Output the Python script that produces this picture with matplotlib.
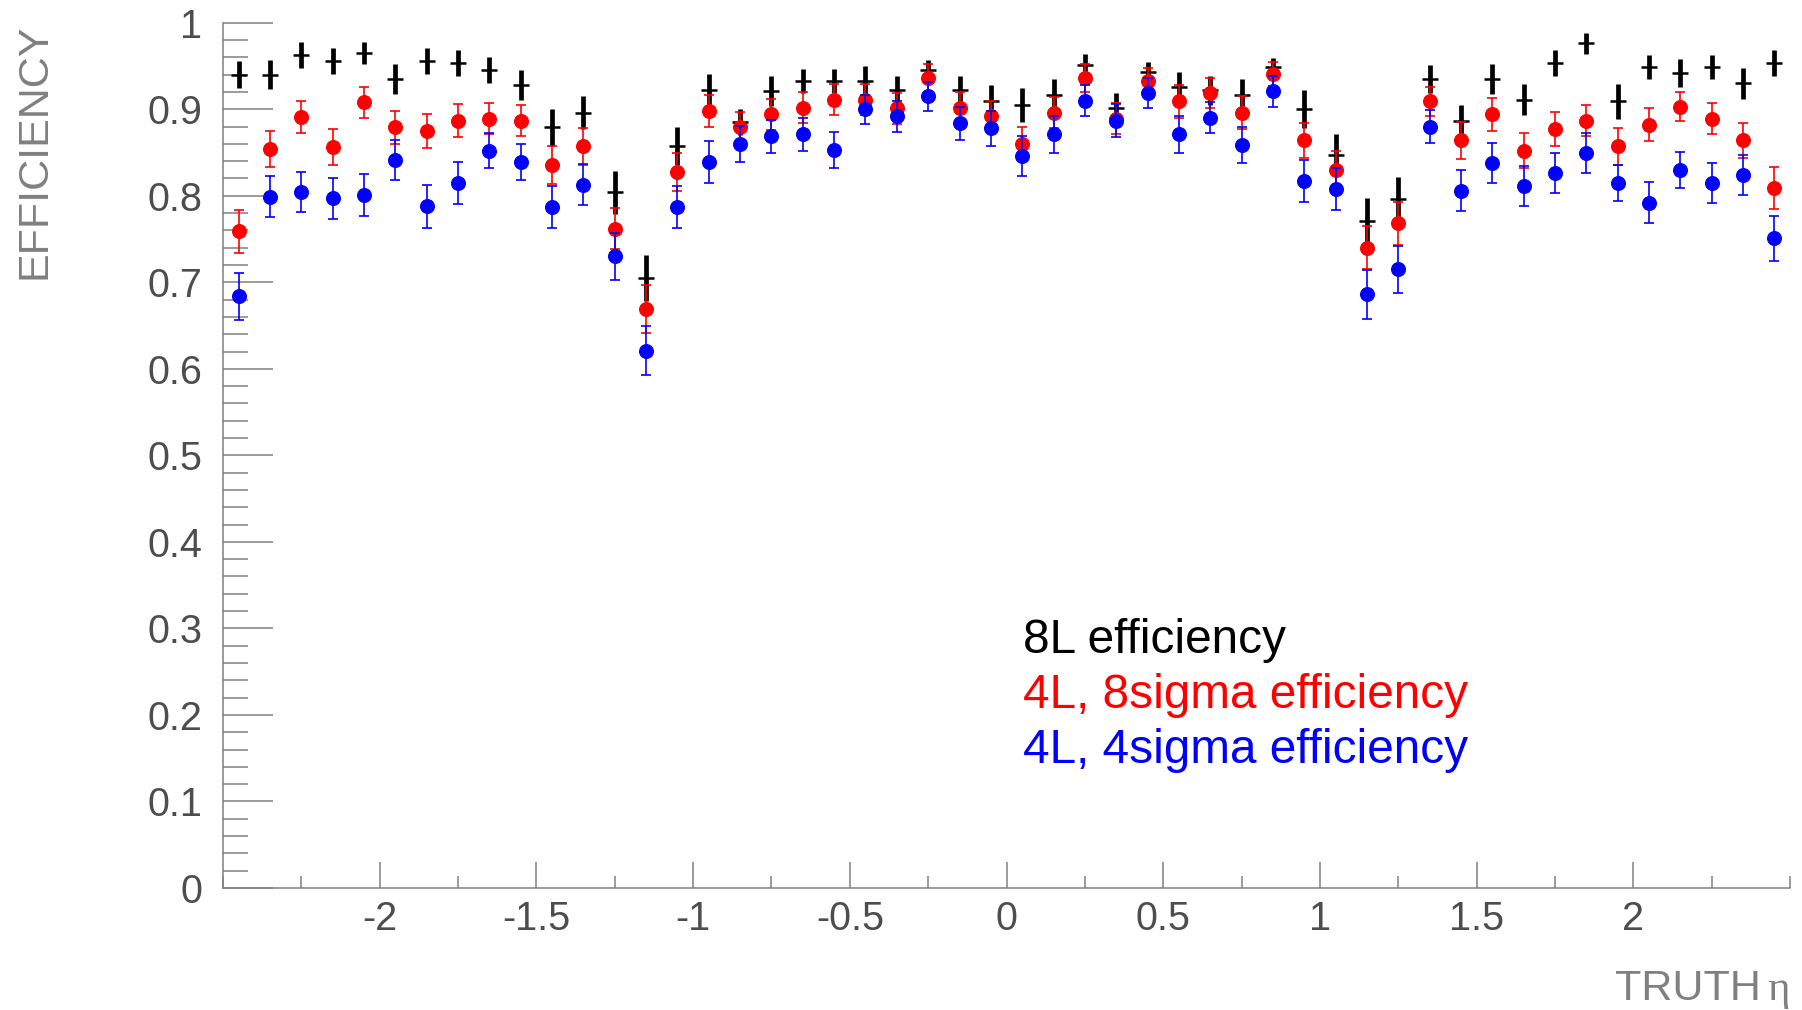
import numpy as np
import matplotlib
matplotlib.use("Agg")
import matplotlib.pyplot as plt
from matplotlib.ticker import MultipleLocator, FormatStrFormatter

plt.rcParams['font.family'] = ['Liberation Sans', 'DejaVu Sans']
plt.rcParams['axes.unicode_minus'] = False

# bin centres in truth eta
eta = [-2.45, -2.35, -2.25, -2.15, -2.05, -1.95, -1.85, -1.75, -1.65, -1.55,
       -1.45, -1.35, -1.25, -1.15, -1.05, -0.95, -0.85, -0.75, -0.65, -0.55,
       -0.45, -0.35, -0.25, -0.15, -0.05, 0.05, 0.15, 0.25, 0.35, 0.45,
       0.55, 0.65, 0.75, 0.85, 0.95, 1.05, 1.15, 1.25, 1.35, 1.45,
       1.55, 1.65, 1.75, 1.85, 1.95, 2.05, 2.15, 2.25, 2.35, 2.45]

eff_8L = [0.940, 0.940, 0.963, 0.956, 0.965, 0.935, 0.956, 0.953, 0.945, 0.928,
          0.879, 0.896, 0.804, 0.705, 0.857, 0.922, 0.885, 0.921, 0.933, 0.933,
          0.933, 0.922, 0.945, 0.922, 0.910, 0.905, 0.917, 0.951, 0.901, 0.943,
          0.926, 0.922, 0.917, 0.949, 0.900, 0.847, 0.771, 0.796, 0.935, 0.887,
          0.935, 0.911, 0.953, 0.976, 0.909, 0.949, 0.942, 0.949, 0.930, 0.953]
err_8L = [0.016, 0.017, 0.015, 0.015, 0.013, 0.017, 0.015, 0.015, 0.015, 0.017,
          0.021, 0.019, 0.025, 0.027, 0.022, 0.019, 0.015, 0.017, 0.014, 0.014,
          0.017, 0.016, 0.012, 0.017, 0.018, 0.020, 0.018, 0.013, 0.018, 0.012,
          0.017, 0.017, 0.018, 0.010, 0.022, 0.024, 0.026, 0.026, 0.016, 0.018,
          0.017, 0.018, 0.015, 0.012, 0.020, 0.014, 0.016, 0.014, 0.018, 0.015]

eff_4L_8s = [0.759, 0.854, 0.891, 0.856, 0.908, 0.879, 0.875, 0.887, 0.889, 0.887,
             0.836, 0.857, 0.762, 0.669, 0.827, 0.898, 0.879, 0.894, 0.902, 0.911,
             0.911, 0.901, 0.936, 0.902, 0.892, 0.860, 0.896, 0.936, 0.889, 0.933,
             0.909, 0.919, 0.896, 0.941, 0.864, 0.830, 0.740, 0.768, 0.909, 0.864,
             0.894, 0.852, 0.877, 0.887, 0.857, 0.882, 0.903, 0.889, 0.864, 0.809]
err_4L_8s = [0.025, 0.021, 0.019, 0.021, 0.018, 0.019, 0.020, 0.019, 0.018, 0.018,
             0.022, 0.021, 0.024, 0.028, 0.022, 0.019, 0.018, 0.018, 0.018, 0.018,
             0.018, 0.018, 0.016, 0.018, 0.018, 0.020, 0.018, 0.016, 0.018, 0.015,
             0.019, 0.017, 0.019, 0.014, 0.020, 0.022, 0.025, 0.025, 0.017, 0.021,
             0.019, 0.020, 0.020, 0.018, 0.021, 0.019, 0.017, 0.018, 0.020, 0.024]

eff_4L_4s = [0.684, 0.799, 0.804, 0.797, 0.801, 0.841, 0.788, 0.815, 0.852, 0.839,
             0.787, 0.813, 0.730, 0.621, 0.787, 0.839, 0.860, 0.869, 0.871, 0.853,
             0.900, 0.892, 0.915, 0.884, 0.878, 0.846, 0.871, 0.910, 0.887, 0.919,
             0.871, 0.890, 0.859, 0.921, 0.817, 0.808, 0.686, 0.715, 0.880, 0.806,
             0.838, 0.811, 0.826, 0.849, 0.815, 0.792, 0.830, 0.815, 0.824, 0.751]
err_4L_4s = [0.027, 0.024, 0.023, 0.024, 0.024, 0.023, 0.025, 0.024, 0.020, 0.021,
             0.024, 0.024, 0.027, 0.028, 0.024, 0.024, 0.021, 0.019, 0.019, 0.021,
             0.017, 0.018, 0.017, 0.019, 0.020, 0.023, 0.021, 0.018, 0.019, 0.017,
             0.021, 0.018, 0.021, 0.018, 0.024, 0.024, 0.028, 0.027, 0.019, 0.024,
             0.023, 0.023, 0.023, 0.023, 0.021, 0.024, 0.021, 0.023, 0.023, 0.026]

labels = ['8L efficiency', '4L, 8sigma efficiency', '4L, 4sigma efficiency']
colors = ['black', '#ff0000', '#0000ff']

axis_grey = '#808080'
label_grey = '#4d4d4d'

fig = plt.figure(figsize=(18.02, 10.10), dpi=100)
ax = fig.add_axes([0.1238, 0.1208, 0.8695, 0.8567])

# 8L: thick bars with a short horizontal mark at the centre
ax.errorbar(eta, eff_8L, yerr=err_8L, fmt='_', color=colors[0],
            markersize=11, markeredgewidth=1.8, elinewidth=3.4, capsize=0,
            zorder=2)
ax.errorbar(eta, eff_4L_8s, yerr=err_4L_8s, fmt='o', color=colors[1],
            markersize=9.8, elinewidth=1.2, capsize=3.5, capthick=1.2,
            zorder=3)
ax.errorbar(eta, eff_4L_4s, yerr=err_4L_4s, fmt='o', color=colors[2],
            markersize=9.8, elinewidth=1.2, capsize=3.5, capthick=1.2,
            zorder=4)

ax.set_xlim(-2.5, 2.5)
ax.set_ylim(0, 1)

for s in ['top', 'right']:
    ax.spines[s].set_visible(False)
for s in ['left', 'bottom']:
    ax.spines[s].set_color(axis_grey)
    ax.spines[s].set_linewidth(1.1)

ax.xaxis.set_minor_locator(MultipleLocator(0.25))
ax.set_xticks([-2, -1.5, -1, -0.5, 0, 0.5, 1, 1.5, 2])
ax.xaxis.set_major_formatter(FormatStrFormatter('%g'))
ax.yaxis.set_major_locator(MultipleLocator(0.1))
ax.yaxis.set_minor_locator(MultipleLocator(0.02))
ax.yaxis.set_major_formatter(FormatStrFormatter('%g'))

ax.tick_params(axis='y', which='major', direction='in', length=36, width=1.1,
               color=axis_grey, labelsize=28.5, labelcolor=label_grey, pad=15)
ax.tick_params(axis='y', which='minor', direction='in', length=18, width=1.1,
               color=axis_grey)
ax.tick_params(axis='x', which='major', direction='in', length=19, width=1.1,
               color=axis_grey, labelsize=28.5, labelcolor=label_grey, pad=9)
ax.tick_params(axis='x', which='minor', direction='in', length=9, width=1.1,
               color=axis_grey)

fig.text(0.019, 0.977, 'EFFICIENCY', rotation=90, ha='center', va='top',
         fontsize=31, color=axis_grey)
fig.text(0.9772, 0.0099, 'TRUTH', ha='right', va='baseline',
         fontsize=31, color=axis_grey)
fig.text(0.9807, 0.0099, 'η', ha='left', va='baseline',
         fontsize=31, color=axis_grey, family=['Liberation Serif', 'DejaVu Serif'])

for lab, col, yb in zip(labels, colors, [0.2716, 0.208, 0.1445]):
    ax.text(0.5105, yb, lab, transform=ax.transAxes, color=col,
            fontsize=34.4, ha='left', va='baseline')

fig.savefig('out.png', dpi=100)
